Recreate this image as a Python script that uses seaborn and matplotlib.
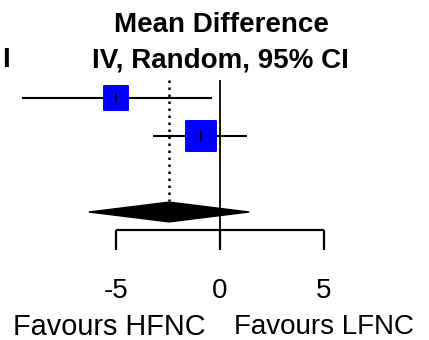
import matplotlib
matplotlib.use("Agg")
import matplotlib.pyplot as plt
from matplotlib.patches import Polygon
import seaborn as sns
import pandas as pd

# ---- data ----
studies = ["Study 1", "Study 2"]
mean_diff = [-5.0, -0.9]
ci_low = [-9.5, -3.2]
ci_high = [-0.4, 1.3]
weights = [40, 60]
pooled_mean = -2.45
pooled_low = -6.3
pooled_high = 1.4
tick_values = [-5, 0, 5]
tick_labels = ["-5", "0", "5"]
favours_left = "Favours HFNC"
favours_right = "Favours LFNC"
title_line1 = "Mean Difference"
title_line2 = "IV, Random, 95% CI"

sns.set_theme(style="white")
plt.rcParams["font.family"] = ["Liberation Sans", "DejaVu Sans"]
plt.rcParams["text.color"] = "black"

W, H = 429, 340
fig = plt.figure(figsize=(W / 100, H / 100), dpi=100)
ax = fig.add_axes([0, 0, 1, 1])
ax.set_axis_off()

# scale: 20.8 px per unit, -5 at px 116
ppu = 20.8
ax.set_xlim(-5 - 116 / ppu, -5 + (W - 116) / ppu)
row_px = 38.0
ax.set_ylim((H - 98) / row_px, -98 / row_px)

rows = list(range(len(studies)))
pooled_row = 3.0
axis_row = 3.47
tick_bottom = 4.0

df = pd.DataFrame({"study": studies, "md": mean_diff, "lo": ci_low,
                   "hi": ci_high, "w": weights, "row": rows})

# CI lines
ax.hlines(df["row"], df["lo"], df["hi"], color="black", lw=1.5, zorder=2)
# squares
sns.scatterplot(data=df, x="md", y="row", size="w", sizes=(290, 470),
                marker="s", color="#0000ff", edgecolor="#0000ff",
                legend=False, ax=ax, zorder=3)
# point tick
ax.scatter(df["md"], df["row"], marker="|", s=50, color="black",
           linewidths=1.2, zorder=4)

# line of no effect
ax.vlines(0, -0.47, axis_row, color="black", lw=1.3, zorder=1)
# pooled dotted line
ax.vlines(pooled_mean, -0.47, 2.7, color="black", lw=1.8,
          linestyles=(0, (1, 1.8)), zorder=1)

# diamond
dh = 0.26
diamond = Polygon([(pooled_low, pooled_row), (pooled_mean, pooled_row - dh),
                   (pooled_high, pooled_row), (pooled_mean, pooled_row + dh)],
                  closed=True, facecolor="black", edgecolor="black", zorder=3)
ax.add_patch(diamond)

# axis
ax.hlines(axis_row, tick_values[0], tick_values[-1], color="black", lw=1.6)
for tv, tl in zip(tick_values, tick_labels):
    ax.vlines(tv, axis_row, tick_bottom, color="black", lw=1.6)
    ax.text(tv, 5.07, tl, ha="center", va="center", fontsize=20,
            color="black")

ax.text(-5 + (109.5 - 116) / ppu, 6.03, favours_left, ha="center",
        va="center", fontsize=20.8, color="black")
ax.text(-5 + (324 - 116) / ppu, 6.03, favours_right, ha="center",
        va="center", fontsize=20, color="black")

# titles
fig.text(221 / W, 1 - 25 / H, title_line1, ha="center", va="center",
         fontsize=20, fontweight="bold", color="black")
fig.text(220 / W, 1 - 60 / H, title_line2, ha="center", va="center",
         fontsize=20, fontweight="bold", color="black")
fig.text(5.5 / W, 1 - 60 / H, "I", ha="center", va="center",
         fontsize=20, fontweight="bold", color="black")

fig.savefig("out.png", dpi=100)
